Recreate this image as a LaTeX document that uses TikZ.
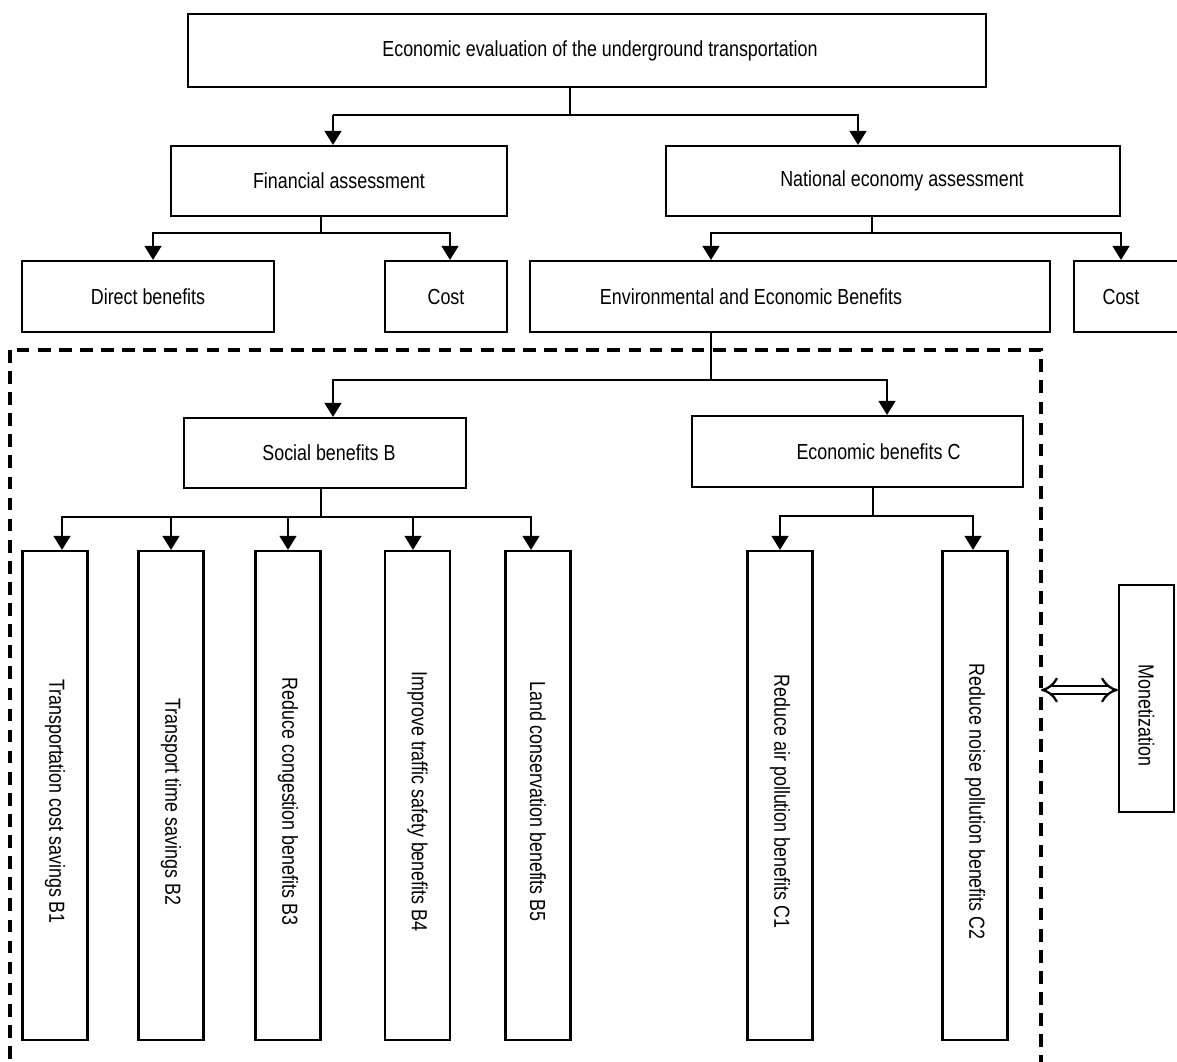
\documentclass[tikz,border=0pt]{standalone}
\usepackage{fontspec}
\setmainfont{Liberation Sans}[FakeStretch=0.82]
\usetikzlibrary{arrows.meta}

\begin{document}
\begin{tikzpicture}[
    x=0.025cm, y=-0.025cm,
    box/.style={rectangle, draw, line width=1.5pt, inner sep=0pt, align=center, font=\fontsize{15.5}{18}\selectfont},
    vbox/.style={box, minimum width=1.625cm, minimum height=12.225cm},
    arrow/.style={-{Triangle[width=12pt, length=10pt]}, line width=1.4pt},
    link/.style={line width=1.4pt},
    dbl/.style={{Implies[length=6pt]}-{Implies[length=6pt]}, double, double distance=4.5pt, line width=1.6pt}
]
    \useasboundingbox (0,0) rectangle (1177,1061);

    % top levels
    \node[box, minimum width=19.95cm, minimum height=1.825cm] (top) at (587,50.5) {\hspace*{0.65cm}Economic evaluation of the underground transportation};
    \node[box, minimum width=8.4cm, minimum height=1.75cm] (fin) at (339,181) {Financial assessment};
    \node[box, minimum width=11.35cm, minimum height=1.75cm] (nat) at (893,181) {\hspace*{0.45cm}National economy assessment};

    \node[box, minimum width=6.3cm, minimum height=1.775cm] (direct) at (148,296.5) {Direct benefits};
    \node[box, minimum width=3.05cm, minimum height=1.775cm] (costa) at (446,296.5) {Cost};
    \node[box, minimum width=13cm, minimum height=1.775cm] (env) at (790,296.5) {\hspace*{-1.95cm}Environmental and Economic Benefits};
    \node[box, minimum width=2.75cm, minimum height=1.775cm] (costb) at (1129,296.5) {\hspace*{-0.4cm}Cost};

    % dashed frame
    \draw[line width=2.5pt, dash pattern=on 9pt off 6pt] (10,350) rectangle (1041,1090);

    \node[box, minimum width=7.05cm, minimum height=1.75cm] (social) at (325,453) {\hspace*{0.2cm}Social benefits B};
    \node[box, minimum width=8.275cm, minimum height=1.775cm] (econ) at (857.5,451.5) {\hspace*{1.05cm}Economic benefits C};

    \node[vbox] (b1) at (55,795.5) {\rotatebox{-90}{\hspace*{0.3cm}Transportation cost savings B1}};
    \node[vbox] (b2) at (171,795.5) {\rotatebox{-90}{\hspace*{0.3cm}Transport time savings B2}};
    \node[vbox] (b3) at (288,795.5) {\rotatebox{-90}{\hspace*{0.3cm}Reduce congestion benefits B3}};
    \node[vbox] (b4) at (417.5,795.5) {\rotatebox{-90}{\hspace*{0.3cm}Improve traffic safety benefits B4}};
    \node[vbox] (b5) at (538,795.5) {\rotatebox{-90}{\hspace*{0.3cm}Land conservation benefits B5}};
    \node[vbox] (c1) at (780,795.5) {\rotatebox{-90}{\hspace*{0.3cm}Reduce air pollution benefits C1}};
    \node[vbox] (c2) at (975,795.5) {\rotatebox{-90}{\hspace*{0.3cm}Reduce noise pollution benefits C2}};

    \node[box, minimum width=1.375cm, minimum height=5.675cm] (mon) at (1146.5,698.5) {\rotatebox{-90}{\hspace*{0.85cm}Monetization}};

    % connectors
    \draw[link] (top.south -| 570,0) -- (570,115);
    \draw[arrow] (333,115) -- (fin.north -| 333,0);
    \draw[arrow] (333,115) -| (nat.north -| 858,0);

    \draw[link] (fin.south -| 321,0) -- (321,233);
    \draw[arrow] (321,233) -| (direct.north -| 153,0);
    \draw[arrow] (321,233) -| (costa.north -| 450,0);

    \draw[link] (nat.south -| 872,0) -- (872,233);
    \draw[arrow] (872,233) -| (env.north -| 711,0);
    \draw[arrow] (872,233) -| (costb.north -| 1121,0);

    \draw[link] (env.south -| 711,0) -- (711,380);
    \draw[arrow] (711,380) -| (social.north -| 333,0);
    \draw[arrow] (711,380) -| (econ.north -| 887,0);

    \draw[link] (social.south -| 321,0) -- (321,517);
    \draw[arrow] (321,517) -| (b1.north -| 62,0);
    \draw[arrow] (321,517) -| (b2.north);
    \draw[arrow] (321,517) -| (b3.north);
    \draw[arrow] (321,517) -| (b4.north -| 413,0);
    \draw[arrow] (321,517) -| (b5.north -| 531,0);

    \draw[link] (econ.south -| 873,0) -- (873,516);
    \draw[arrow] (873,516) -| (c1.north);
    \draw[arrow] (873,516) -| (c2.north -| 973,0);

    \coordinate (frame) at (1041,690);
    \draw[dbl] (frame) -- (frame -| mon.west);
\end{tikzpicture}
\end{document}
